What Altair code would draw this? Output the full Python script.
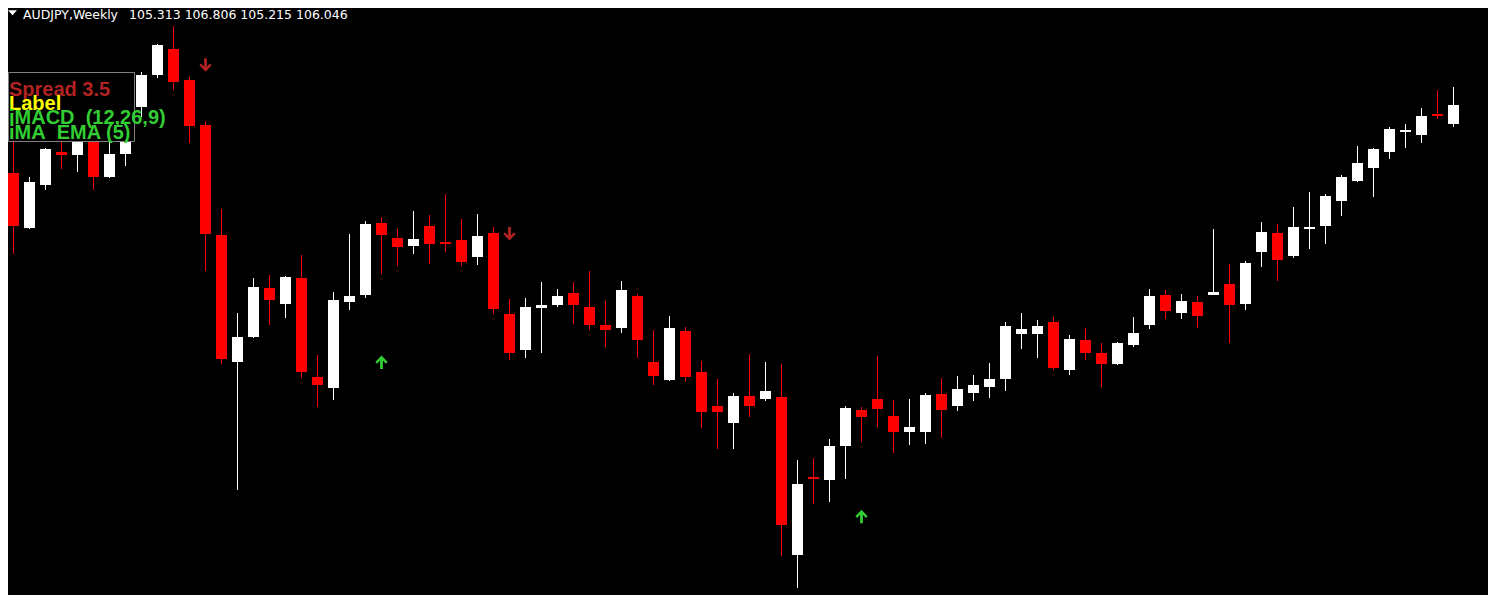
import altair as alt
import pandas as pd

# ---- candle data (weekly AUDJPY), index -1 .. 90 ----
idx = list(range(-1, 91))
open_ = [99.39, 103.35, 101.15, 102.87, 104.19, 104.07, 105.27, 103.19, 104.11, 105.99,
         107.27, 108.31, 107.07, 105.27, 100.87, 95.79, 96.79, 98.75, 98.11, 99.15,
         95.19, 94.75, 98.19, 98.47, 101.35, 100.75, 100.43, 101.23, 100.59, 100.67,
         99.99, 100.95, 97.71, 96.27, 97.95, 98.07, 98.55, 97.99, 97.27, 97.15,
         98.43, 95.79, 95.07, 97.03, 95.39, 94.03, 93.35, 94.43, 94.31, 94.39,
         88.07, 91.19, 91.07, 92.43, 93.87, 94.31, 93.63, 92.99, 92.99, 94.51,
         94.03, 94.55, 94.79, 95.11, 96.91, 96.91, 97.39, 95.47, 96.67, 96.15,
         95.71, 96.47, 97.27, 98.47, 97.75, 98.19, 98.47, 98.91, 98.11, 100.19,
         100.95, 100.03, 101.11, 101.23, 102.23, 103.03, 103.55, 104.19, 104.99, 104.87,
         105.71, 105.31]
high = [103.47, 105.47, 103.19, 104.35, 104.87, 105.39, 105.55, 105.07, 105.87, 107.39,
        108.51, 109.23, 107.19, 105.43, 101.91, 97.75, 99.15, 99.27, 99.23, 100.07,
        96.07, 98.59, 100.91, 101.43, 101.59, 101.11, 101.83, 101.67, 102.51, 101.51,
        101.71, 101.19, 98.31, 98.35, 98.99, 98.71, 98.99, 99.43, 98.23, 99.03,
        98.51, 97.07, 97.63, 97.19, 95.83, 95.11, 94.55, 96.11, 95.79, 95.71,
        91.87, 91.95, 92.71, 94.03, 93.99, 96.03, 94.27, 94.31, 94.55, 95.15,
        95.23, 95.27, 95.75, 97.39, 97.75, 97.47, 97.59, 96.87, 97.15, 96.55,
        96.59, 97.59, 98.71, 98.67, 98.51, 98.43, 101.11, 99.71, 99.83, 101.39,
        101.31, 101.99, 102.59, 102.51, 103.27, 104.43, 104.35, 105.19, 105.31, 105.95,
        106.67, 106.79]
low = [99.23, 100.11, 101.11, 102.67, 103.51, 103.39, 102.67, 103.15, 103.63, 105.59,
       107.15, 106.67, 104.55, 99.43, 95.71, 90.67, 96.75, 97.27, 97.55, 95.15,
       93.99, 94.27, 97.87, 98.35, 99.31, 99.63, 100.11, 99.71, 100.19, 99.63,
       99.67, 97.71, 95.87, 95.95, 96.15, 97.99, 97.31, 97.07, 96.39, 96.95,
       95.95, 94.87, 95.03, 95.03, 93.15, 92.31, 92.31, 93.59, 94.23, 88.03,
       86.75, 90.11, 90.19, 91.11, 92.59, 93.19, 92.15, 92.47, 92.51, 92.75,
       93.83, 94.23, 94.35, 94.63, 96.31, 95.95, 95.47, 95.27, 95.87, 94.79,
       95.67, 96.39, 97.11, 97.51, 97.51, 97.15, 98.47, 96.55, 97.87, 99.59,
       99.03, 99.95, 100.31, 100.51, 101.63, 102.99, 102.39, 103.91, 104.35, 104.55,
       105.51, 105.19]
close = [103.27, 101.23, 102.99, 104.31, 104.07, 105.15, 103.19, 104.11, 105.55, 107.27,
         108.47, 106.99, 105.23, 100.91, 95.91, 96.79, 98.79, 98.27, 99.19, 95.39,
         94.87, 98.27, 98.43, 101.31, 100.87, 100.39, 100.71, 100.51, 100.51, 99.79,
         100.83, 97.91, 96.15, 97.99, 98.07, 98.43, 98.07, 97.27, 97.07, 98.67,
         96.67, 95.23, 97.15, 95.19, 93.79, 93.79, 94.43, 94.03, 94.63, 89.27,
         90.91, 91.11, 92.43, 93.95, 93.59, 93.91, 92.99, 93.19, 94.47, 93.87,
         94.71, 94.87, 95.11, 97.23, 97.11, 97.23, 95.55, 96.71, 96.15, 95.71,
         96.55, 96.95, 98.43, 97.83, 98.23, 97.63, 98.59, 98.07, 99.75, 100.99,
         99.87, 101.19, 101.19, 102.43, 103.19, 103.75, 104.31, 105.11, 105.07, 105.63,
         105.63, 106.07]

# signal arrows
down_idx = [12, 31]
down_price = [107.67, 100.92]
up_idx = [23, 53]
up_price = [95.78, 89.61]

# texts
title_symbol = "AUDJPY,Weekly"
title_values = "105.313 106.806 105.215 106.046"
legend_lines = ["Spread 3.5", "Label", "iMACD\u00a0 (12,26,9)", "iMA\u00a0 EMA (5)"]
legend_colors = ["#B22222", "#FFFF00", "#32CD32", "#32CD32"]

df = pd.DataFrame({"i": idx, "open": open_, "high": high, "low": low, "close": close})
down_df = pd.DataFrame({"i": down_idx, "p": down_price})
up_df = pd.DataFrame({"i": up_idx, "p": up_price})

W, H = 1480, 587
xscale = alt.Scale(domain=[-0.34375, 92.15625], nice=False, zero=False)
yscale = alt.Scale(domain=[86.47, 109.95], nice=False, zero=False)

candle_color = alt.condition("datum.close >= datum.open", alt.value("#FFFFFF"), alt.value("#FF0000"))

base = alt.Chart(df)

wicks = base.mark_rule(strokeWidth=1, clip=True).encode(
    x=alt.X("i:Q", scale=xscale, axis=None),
    y=alt.Y("high:Q", scale=yscale, axis=None),
    y2="low:Q",
    color=candle_color,
)

bodies = base.transform_calculate(
    xl="datum.i - 0.34375", xr="datum.i + 0.34375"
).mark_rect(clip=True).encode(
    x=alt.X("xl:Q", scale=xscale, axis=None),
    x2="xr:Q",
    y=alt.Y("open:Q", scale=yscale, axis=None),
    y2="close:Q",
    color=candle_color,
)

down_path = "M-0.2,-0.96 L0.2,-0.96 L0.2,0.25 L0.62,-0.2 L0.88,0.05 L0,0.96 L-0.88,0.05 L-0.62,-0.2 L-0.2,0.25 Z"
up_path = "M-0.2,0.96 L0.2,0.96 L0.2,-0.25 L0.62,0.2 L0.88,-0.05 L0,-0.96 L-0.88,-0.05 L-0.62,0.2 L-0.2,-0.25 Z"

down_arrows = alt.Chart(down_df).mark_point(
    shape=down_path, filled=True, size=196, opacity=1, color="#B22222", strokeWidth=0
).encode(
    x=alt.X("i:Q", scale=xscale, axis=None),
    y=alt.Y("p:Q", scale=yscale, axis=None),
)
up_arrows = alt.Chart(up_df).mark_point(
    shape=up_path, filled=True, size=196, opacity=1, color="#32CD32", strokeWidth=0
).encode(
    x=alt.X("i:Q", scale=xscale, axis=None),
    y=alt.Y("p:Q", scale=yscale, axis=None),
)

one = alt.Data(values=[{"k": 0}])

box = alt.Chart(one).mark_rect(fill="#000000", stroke="#808080", strokeWidth=1).encode(
    x=alt.value(0.5), x2=alt.value(126.5), y=alt.value(64.5), y2=alt.value(133.5)
)

legend_layers = []
baselines = [87.5, 101.5, 116, 130.5]
for txt, col, by in zip(legend_lines, legend_colors, baselines):
    legend_layers.append(
        alt.Chart(one).mark_text(
            text=txt, color=col, font="Liberation Sans", fontSize=20, fontWeight="bold",
            align="left", baseline="alphabetic"
        ).encode(x=alt.value(1), y=alt.value(by))
    )

tri = alt.Chart(one).mark_point(
    shape="M-1,-0.55 L1,-0.55 L0,0.55 Z", filled=True, size=81, opacity=1,
    color="#FFFFFF", strokeWidth=0
).encode(x=alt.value(4.5), y=alt.value(4.8))

t1 = alt.Chart(one).mark_text(
    text=title_symbol, color="#FFFFFF", font="DejaVu Sans", fontSize=12.5,
    align="left", baseline="alphabetic"
).encode(x=alt.value(15), y=alt.value(11))
t2 = alt.Chart(one).mark_text(
    text=title_values, color="#FFFFFF", font="DejaVu Sans", fontSize=12.5,
    align="left", baseline="alphabetic"
).encode(x=alt.value(121), y=alt.value(11))

chart = alt.layer(
    wicks, bodies, down_arrows, up_arrows, box, *legend_layers, tri, t1, t2
).properties(
    width=W, height=H, autosize="none", padding=0
).configure(
    background="#000000"
).configure_view(strokeWidth=0)

chart.save("out.html", embed_options={"renderer": "svg", "actions": False})
